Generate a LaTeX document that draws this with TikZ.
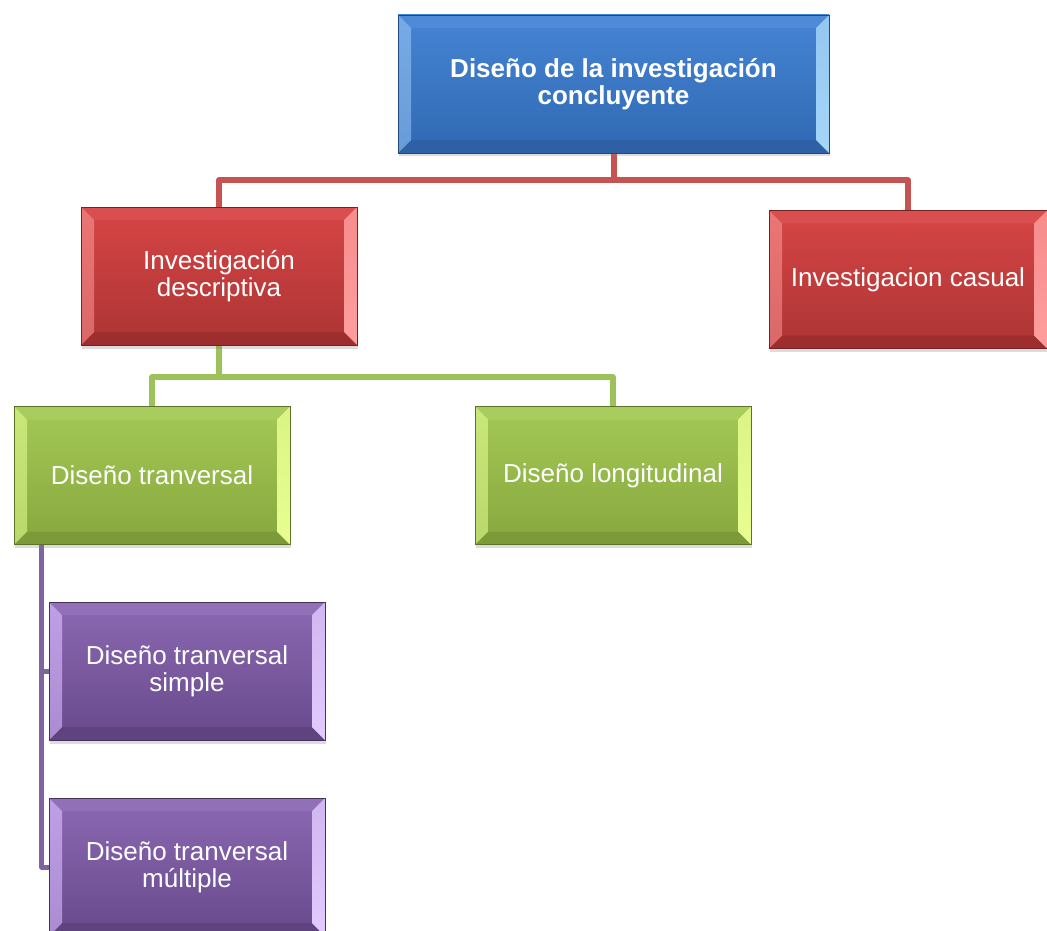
\documentclass[tikz,border=0pt]{standalone}
\usepackage{fontspec}
\setmainfont{Liberation Sans}
\usetikzlibrary{shadows,backgrounds,calc}

% palette
\definecolor{blueT}{HTML}{4584D4}
\definecolor{blueB}{HTML}{3069B2}
\definecolor{blueL}{HTML}{80B2EA}
\definecolor{blueR}{HTML}{A6D6F8}
\definecolor{blueD}{HTML}{2D60A4}
\definecolor{redT}{HTML}{D74545}
\definecolor{redB}{HTML}{AC3434}
\definecolor{redL}{HTML}{EE7E7E}
\definecolor{redR}{HTML}{FF9E9E}
\definecolor{redD}{HTML}{9E2E2E}
\definecolor{grnT}{HTML}{A4C956}
\definecolor{grnB}{HTML}{87A73E}
\definecolor{grnL}{HTML}{D0EC80}
\definecolor{grnR}{HTML}{E8FF90}
\definecolor{grnD}{HTML}{7C9A38}
\definecolor{purT}{HTML}{8C69B3}
\definecolor{purB}{HTML}{68498B}
\definecolor{purL}{HTML}{C8A8EE}
\definecolor{purR}{HTML}{E2CAFF}
\definecolor{purD}{HTML}{5E437F}
\definecolor{lnRed}{HTML}{C65352}
\definecolor{lnGrn}{HTML}{9DC25A}
\definecolor{lnPur}{HTML}{8064A2}

\tikzset{
  % bevelled box: #1 top colour, #2 bottom colour, #3 left bevel, #4 right bevel, #5 lower bevel
  bevelbox/.style n args={5}{
    rectangle, minimum width=276pt, minimum height=138pt, inner sep=0pt,
    text=white, align=center, font=\fontsize{26}{27}\selectfont,
    top color=#1, bottom color=#2, draw=#5!75!black, line width=0.7pt,
    drop shadow={opacity=0.28, shadow xshift=1pt, shadow yshift=-3.5pt},
    path picture={
      \coordinate (bNW) at (path picture bounding box.north west);
      \coordinate (bNE) at (path picture bounding box.north east);
      \coordinate (bSW) at (path picture bounding box.south west);
      \coordinate (bSE) at (path picture bounding box.south east);
      \coordinate (iNW) at ([xshift=13pt,yshift=-13pt]path picture bounding box.north west);
      \coordinate (iNE) at ([xshift=-13pt,yshift=-13pt]path picture bounding box.north east);
      \coordinate (iSW) at ([xshift=13pt,yshift=13pt]path picture bounding box.south west);
      \coordinate (iSE) at ([xshift=-13pt,yshift=13pt]path picture bounding box.south east);
      \fill[#1!95!white] (bNW) -- (bNE) -- (iNE) -- (iNW) -- cycle;
      \fill[#5] (bSW) -- (bSE) -- (iSE) -- (iSW) -- cycle;
      \shade[top color=#3!85!#1, bottom color=#3!70!#2] (bNW) -- (iNW) -- (iSW) -- (bSW) -- cycle;
      \shade[top color=#4!80!#1, bottom color=#4] (bNE) -- (iNE) -- (iSE) -- (bSE) -- cycle;
    }
  },
  bluebox/.style={bevelbox={blueT}{blueB}{blueL}{blueR}{blueD}},
  redbox/.style={bevelbox={redT}{redB}{redL}{redR}{redD}},
  greenbox/.style={bevelbox={grnT}{grnB}{grnL}{grnR}{grnD}},
  purplebox/.style={bevelbox={purT}{purB}{purL}{purR}{purD}},
  link/.style={line width=6pt, line join=round},
}

\begin{document}
\begin{tikzpicture}[x=1pt,y=-1pt]
\useasboundingbox (0,0) rectangle (1047,931);

% boxes
\node[bluebox, minimum width=431pt, font=\fontsize{26}{27}\selectfont\bfseries]
  (root) at (613.5,84) {Diseño de la investigación\\concluyente};
\node[redbox] (desc) at (219,276) {Investigación\\descriptiva};
\node[redbox, minimum width=278pt] (caus) at (908,279.5) {Investigacion casual};
\node[greenbox] (trans) at (152,475.5) {Diseño tranversal};
\node[greenbox] (longi) at (613,475.5) {Diseño longitudinal};
\node[purplebox] (simp) at (187,671) {Diseño tranversal\\simple};
\node[purplebox] (mult) at (187,867) {Diseño tranversal\\múltiple};

% connectors
\begin{scope}[on background layer]
  \draw[link, lnRed] (root.south) -- ++(0,27) coordinate (rj) -| (desc.north);
  \draw[link, lnRed] (rj) -| (caus.north);
  \draw[link, lnGrn] (desc.south) -- ++(0,32) coordinate (gj) -| (trans.north);
  \draw[link, lnGrn] (gj) -| (longi.north);
  \coordinate (pv) at ($(trans.south west)+(28,0)$);
  \draw[link, line width=5pt, lnPur] (pv) |- (simp.west);
  \draw[link, line width=5pt, lnPur] (pv) |- (mult.west);
\end{scope}
\end{tikzpicture}
\end{document}
